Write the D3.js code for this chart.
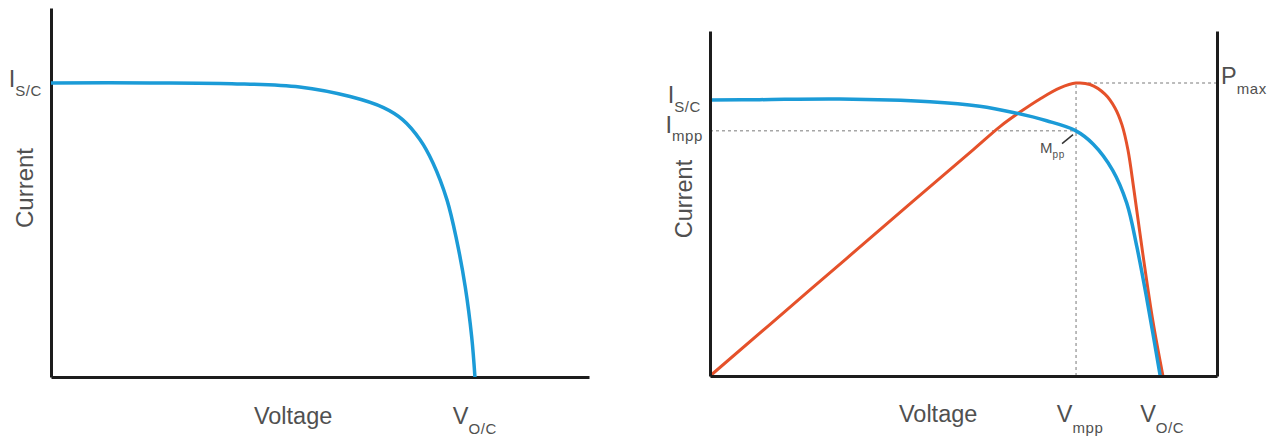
<!DOCTYPE html>
<html>
<head>
<meta charset="utf-8">
<script src="https://cdn.jsdelivr.net/npm/d3@7"></script>
<style>
  html, body { margin: 0; padding: 0; background: #fff; }
  svg { display: block; }
  text { font-family: "Liberation Sans", Arial, sans-serif; fill: #505050; }
</style>
</head>
<body>
<svg id="chart" width="1274" height="441"></svg>
<script>
// ---- I-V curve of a single cell (left panel) ----
const leftVoltage = [0, 9.2, 16.8, 23.1, 27.8, 30.9, 32.7, 34.3, 35.5, 36.8, 37.7, 38.5, 39.1, 39.4];
const leftCurrent = [7.97, 7.97, 7.95, 7.86, 7.60, 7.30, 6.97, 6.43, 5.80, 4.80, 3.71, 2.44, 1.08, 0];
const leftIsc = 7.97;
const leftVoc = 39.4;

// ---- I-V and P-V curves with the maximum power point (right panel) ----
const rightVoltage = [0, 4.9, 12.8, 21.7, 26.6, 29.9, 33.2, 36.0, 37.8, 39.7, 41.1, 42.1, 43.1, 44.4];
const rightCurrent = [8.00, 8.01, 8.03, 7.95, 7.82, 7.64, 7.40, 7.12, 6.72, 5.97, 5.01, 3.74, 2.20, 0];
const powerVoltage = [0, 10, 20, 26, 28.6, 30.57, 32.54, 34.52, 36.09, 37.48, 38.95, 39.94, 40.63, 41.22, 41.81, 42.70, 43.69, 44.67];
const powerValues  = [0, 2.53, 5.06, 6.57, 7.23, 7.65, 8.03, 8.35, 8.49, 8.45, 8.17, 7.77, 7.28, 6.55, 5.39, 3.51, 1.57, 0];
const rightIsc = 8.00;
const rightVoc = 44.4;
const vmpp = 36.1;
const impp = 7.11;
const pmax = 8.49;

// axis titles and point labels: [main letter, subscript]
const axisTitles = { x: "Voltage", y: "Current" };
const labelIsc = ["I", "S/C"];
const labelImpp = ["I", "mpp"];
const labelVoc = ["V", "O/C"];
const labelVmpp = ["V", "mpp"];
const labelPmax = ["P", "max"];
const labelMpp = ["M", "pp"];
const voltageTitleAt = 22.5;

const svg = d3.select("#chart");
const BLUE = "#1b9bd7", ORANGE = "#e5512a", AXIS = "#1c1c1c", GUIDE = "#a6a6a6";

function zip(a, b) { return a.map((v, i) => [v, b[i]]); }

// label with a subscript, anchored by 'anchor'
function subLabel(g, x, y, parts, anchor, mainSize, subSize, subDy) {
  const t = g.append("text").attr("x", x).attr("y", y)
    .attr("text-anchor", anchor);
  t.append("tspan").attr("font-size", mainSize).text(parts[0]);
  t.append("tspan").attr("font-size", subSize).attr("dy", subDy)
    .attr("letter-spacing", 0.6).text(parts[1]);
  return t;
}

function styleAxis(sel) {
  sel.select(".domain").attr("stroke", AXIS).attr("stroke-width", 3);
}

// ================= left panel =================
{
  const x = d3.scaleLinear().domain([0, 50]).range([51, 589]);
  const y = d3.scaleLinear().domain([0, 10]).range([377, 8]);
  const g = svg.append("g");

  g.append("g").attr("transform", `translate(0,${y(0)})`)
    .call(d3.axisBottom(x).tickValues([]).tickSizeOuter(0)).call(styleAxis);
  g.append("g").attr("transform", `translate(${x(0)},0)`)
    .call(d3.axisLeft(y).tickValues([]).tickSizeOuter(0)).call(styleAxis);

  const line = d3.line().x(d => x(d[0])).y(d => y(d[1])).curve(d3.curveCatmullRom.alpha(0.5));
  g.append("path").datum(zip(leftVoltage, leftCurrent))
    .attr("d", line).attr("fill", "none").attr("stroke", BLUE)
    .attr("stroke-width", 3.5).attr("stroke-linejoin", "round");

  subLabel(g, x(0) - 9, y(leftIsc) + 4, labelIsc, "end", 23.5, 15, 9);
  subLabel(g, x(leftVoc), 424, labelVoc, "middle", 23.5, 15, 10);
  g.append("text").attr("x", x(voltageTitleAt)).attr("y", 424)
    .attr("text-anchor", "middle").attr("font-size", 23.5).text(axisTitles.x);
  g.append("text").attr("transform", `translate(33,${188}) rotate(-90)`)
    .attr("text-anchor", "middle").attr("font-size", 24).text(axisTitles.y);
}

// ================= right panel =================
{
  const x = d3.scaleLinear().domain([0, 50]).range([710, 1217]);
  const y = d3.scaleLinear().domain([0, 10]).range([376, 31]);
  const g = svg.append("g");

  // dashed guides to the maximum power point
  const guides = [
    [[0, impp], [vmpp, impp]],
    [[vmpp, 0], [vmpp, pmax]],
    [[vmpp, pmax], [50, pmax]]
  ];
  g.selectAll(".guide").data(guides).join("line").attr("class", "guide")
    .attr("x1", d => x(d[0][0])).attr("y1", d => y(d[0][1]))
    .attr("x2", d => x(d[1][0])).attr("y2", d => y(d[1][1]))
    .attr("stroke", GUIDE).attr("stroke-width", 1.5).attr("stroke-dasharray", "3,3");

  const line = d3.line().x(d => x(d[0])).y(d => y(d[1])).curve(d3.curveCatmullRom.alpha(0.5));
  g.append("path").datum(zip(powerVoltage, powerValues))
    .attr("d", line).attr("fill", "none").attr("stroke", ORANGE)
    .attr("stroke-width", 3).attr("stroke-linejoin", "round");
  g.append("path").datum(zip(rightVoltage, rightCurrent))
    .attr("d", line).attr("fill", "none").attr("stroke", BLUE)
    .attr("stroke-width", 3.5).attr("stroke-linejoin", "round");

  g.append("g").attr("transform", `translate(0,${y(0)})`)
    .call(d3.axisBottom(x).tickValues([]).tickSizeOuter(0)).call(styleAxis);
  g.append("g").attr("transform", `translate(${x(0)},0)`)
    .call(d3.axisLeft(y).tickValues([]).tickSizeOuter(0)).call(styleAxis);
  g.append("g").attr("transform", `translate(${x(50)},0)`)
    .call(d3.axisRight(y).tickValues([]).tickSizeOuter(0)).call(styleAxis);

  // maximum power point callout
  g.append("line")
    .attr("x1", x(vmpp) - 14).attr("y1", y(impp) + 13)
    .attr("x2", x(vmpp) - 3).attr("y2", y(impp) + 4)
    .attr("stroke", "#333").attr("stroke-width", 1.5);
  subLabel(g, x(vmpp) - 36, y(impp) + 22, labelMpp, "start", 15, 10, 5);

  subLabel(g, x(0) - 9, y(rightIsc) + 3, labelIsc, "end", 23.5, 15, 9);
  subLabel(g, x(0) - 7, y(impp) + 2, labelImpp, "end", 23.5, 15, 8);
  subLabel(g, x(50) + 4, y(pmax) + 1, labelPmax, "start", 23.5, 15, 10);
  subLabel(g, x(vmpp) + 4, 422, labelVmpp, "middle", 23.5, 15, 11);
  subLabel(g, x(rightVoc) + 2, 422, labelVoc, "middle", 23.5, 15, 11);
  g.append("text").attr("x", x(voltageTitleAt)).attr("y", 422)
    .attr("text-anchor", "middle").attr("font-size", 23.5).text(axisTitles.x);
  g.append("text").attr("transform", `translate(692,${199}) rotate(-90)`)
    .attr("text-anchor", "middle").attr("font-size", 23.5).text(axisTitles.y);
}
</script>
</body>
</html>
